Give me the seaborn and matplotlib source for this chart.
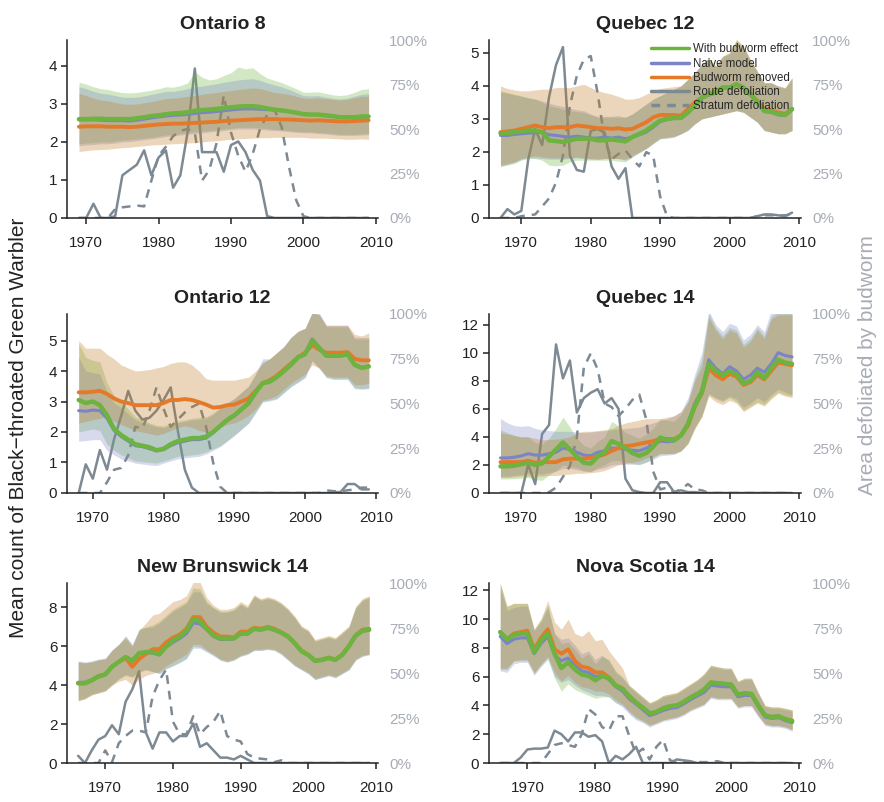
import matplotlib
matplotlib.use("Agg")
import matplotlib.pyplot as plt
from matplotlib.lines import Line2D
import seaborn as sns

# ---- data: mean counts, credible bands and % area defoliated ----
# (values grouped ten years per line)

# Ontario 8, 1969-2009
on8_years = list(range(1969, 2010))
on8_green = [2.60, 2.60, 2.61, 2.61, 2.60, 2.60, 2.60, 2.60, 2.62, 2.65,
             2.68, 2.70, 2.73, 2.75, 2.76, 2.78, 2.82, 2.84, 2.85, 2.87,
             2.89, 2.91, 2.93, 2.94, 2.94, 2.92, 2.88, 2.85, 2.83, 2.80,
             2.77, 2.73, 2.72, 2.72, 2.70, 2.68, 2.65, 2.65, 2.65, 2.67,
             2.67]
on8_blue = [2.58, 2.58, 2.58, 2.57, 2.56, 2.56, 2.56, 2.55, 2.57, 2.60,
            2.63, 2.66, 2.68, 2.70, 2.71, 2.72, 2.75, 2.77, 2.78, 2.80,
            2.82, 2.84, 2.86, 2.87, 2.87, 2.86, 2.85, 2.84, 2.82, 2.80,
            2.77, 2.74, 2.72, 2.72, 2.70, 2.68, 2.65, 2.65, 2.65, 2.66,
            2.66]
on8_orange = [2.40, 2.41, 2.41, 2.41, 2.40, 2.40, 2.40, 2.39, 2.40, 2.42,
              2.44, 2.46, 2.47, 2.48, 2.48, 2.49, 2.50, 2.51, 2.52, 2.53,
              2.55, 2.56, 2.57, 2.58, 2.59, 2.60, 2.60, 2.60, 2.59, 2.59,
              2.58, 2.57, 2.56, 2.57, 2.56, 2.55, 2.54, 2.54, 2.55, 2.56,
              2.57]
on8_green_hi = [3.57, 3.52, 3.45, 3.40, 3.38, 3.33, 3.30, 3.29, 3.30, 3.33,
                3.36, 3.40, 3.45, 3.44, 3.48, 3.55, 3.85, 3.70, 3.63, 3.66,
                3.75, 3.82, 3.97, 3.92, 3.95, 3.80, 3.68, 3.62, 3.56, 3.48,
                3.40, 3.31, 3.31, 3.32, 3.28, 3.24, 3.22, 3.24, 3.30, 3.38,
                3.40]
on8_green_lo = [1.95, 1.97, 1.98, 2.00, 2.00, 2.02, 2.05, 2.06, 2.08, 2.10,
                2.12, 2.15, 2.18, 2.20, 2.22, 2.24, 2.26, 2.28, 2.30, 2.32,
                2.34, 2.36, 2.38, 2.38, 2.38, 2.37, 2.35, 2.33, 2.32, 2.30,
                2.28, 2.27, 2.27, 2.25, 2.24, 2.22, 2.20, 2.20, 2.20, 2.21,
                2.22]
on8_blue_hi = [3.45, 3.40, 3.33, 3.28, 3.26, 3.22, 3.18, 3.17, 3.18, 3.21,
               3.25, 3.29, 3.33, 3.33, 3.36, 3.40, 3.45, 3.47, 3.50, 3.53,
               3.57, 3.60, 3.63, 3.65, 3.66, 3.62, 3.55, 3.50, 3.45, 3.38,
               3.30, 3.22, 3.21, 3.22, 3.18, 3.15, 3.13, 3.15, 3.20, 3.25,
               3.27]
on8_blue_lo = [1.90, 1.92, 1.93, 1.95, 1.95, 1.97, 2.00, 2.01, 2.03, 2.06,
               2.08, 2.11, 2.14, 2.16, 2.18, 2.20, 2.22, 2.24, 2.26, 2.28,
               2.30, 2.32, 2.34, 2.34, 2.34, 2.33, 2.31, 2.30, 2.29, 2.27,
               2.25, 2.24, 2.24, 2.22, 2.21, 2.19, 2.17, 2.17, 2.17, 2.18,
               2.19]
on8_orange_hi = [3.28, 3.22, 3.15, 3.10, 3.08, 3.04, 3.00, 2.99, 3.00, 3.03,
                 3.06, 3.10, 3.14, 3.15, 3.17, 3.20, 3.22, 3.25, 3.28, 3.30,
                 3.33, 3.35, 3.38, 3.40, 3.42, 3.40, 3.35, 3.30, 3.28, 3.25,
                 3.20, 3.15, 3.15, 3.16, 3.14, 3.12, 3.10, 3.12, 3.16, 3.20,
                 3.20]
on8_orange_lo = [1.75, 1.77, 1.79, 1.80, 1.81, 1.83, 1.85, 1.86, 1.88, 1.90,
                 1.92, 1.93, 1.94, 1.95, 1.96, 1.97, 1.98, 2.00, 2.02, 2.03,
                 2.05, 2.07, 2.08, 2.09, 2.10, 2.11, 2.11, 2.12, 2.12, 2.12,
                 2.12, 2.12, 2.10, 2.10, 2.10, 2.09, 2.08, 2.07, 2.07, 2.08,
                 2.07]
on8_route = [0, 0, 8, 0, 0, 1, 24, 27, 30, 38,
             24, 34, 38, 17, 24, 48, 84, 37, 37, 37,
             26, 41, 43, 37, 27, 21, 1, 0, 0, 0,
             0, 0, 0, 0, 0, 0, 0, 0, 0, 0,
             0]
on8_stratum = [0, 0, 0, 0, 0, 5, 6, 6.5, 7, 6.5,
               21, 35, 40, 46, 49, 50, 48, 21, 27, 42,
               69, 48, 35, 26, 36, 50, 58, 61, 51, 29,
               10, 1, 0, 0, 0, 0, 0, 0, 0, 0,
               0]

# Quebec 12, 1967-2009
q12_years = list(range(1967, 2010))
q12_green = [2.57, 2.57, 2.60, 2.62, 2.65, 2.65, 2.60, 2.35, 2.33, 2.30,
             2.35, 2.40, 2.40, 2.40, 2.35, 2.35, 2.38, 2.35, 2.32, 2.45,
             2.55, 2.65, 2.80, 2.95, 3.00, 3.03, 3.03, 3.20, 3.40, 3.65,
             3.75, 3.80, 3.95, 3.95, 4.05, 3.95, 3.75, 3.50, 3.25, 3.22,
             3.15, 3.12, 3.30]
q12_blue = [2.50, 2.50, 2.53, 2.55, 2.57, 2.58, 2.60, 2.52, 2.50, 2.47,
            2.45, 2.48, 2.45, 2.42, 2.42, 2.45, 2.42, 2.45, 2.40, 2.45,
            2.52, 2.60, 2.75, 2.92, 2.98, 3.02, 3.02, 3.18, 3.38, 3.62,
            3.72, 3.78, 3.92, 3.93, 4.02, 3.92, 3.72, 3.48, 3.22, 3.20,
            3.12, 3.10, 3.27]
q12_orange = [2.60, 2.62, 2.65, 2.70, 2.75, 2.80, 2.75, 2.72, 2.75, 2.75,
              2.75, 2.80, 2.78, 2.75, 2.72, 2.72, 2.70, 2.72, 2.68, 2.70,
              2.80, 2.90, 3.05, 3.12, 3.12, 3.12, 3.10, 3.30, 3.50, 3.65,
              3.75, 3.85, 3.95, 3.95, 4.05, 3.95, 3.75, 3.55, 3.30, 3.25,
              3.20, 3.15, 3.30]
q12_green_hi = [3.85, 3.80, 3.75, 3.70, 3.65, 3.60, 3.50, 3.40, 3.35, 3.30,
                3.25, 3.22, 3.20, 3.12, 3.05, 3.05, 3.05, 3.05, 3.05, 3.15,
                3.30, 3.45, 3.60, 3.70, 3.80, 3.90, 4.00, 4.20, 4.40, 4.65,
                4.85, 4.60, 4.90, 5.00, 5.40, 5.20, 4.80, 4.45, 4.10, 4.10,
                4.00, 3.95, 4.25]
q12_green_lo = [1.55, 1.60, 1.65, 1.75, 1.80, 1.80, 1.75, 1.60, 1.58, 1.60,
                1.70, 1.75, 1.75, 1.75, 1.75, 1.75, 1.75, 1.72, 1.70, 1.85,
                1.98, 2.10, 2.25, 2.40, 2.42, 2.45, 2.55, 2.65, 2.85, 3.00,
                3.05, 3.10, 3.15, 3.20, 3.25, 3.20, 3.05, 2.90, 2.65, 2.60,
                2.55, 2.55, 2.65]
q12_blue_hi = [3.82, 3.78, 3.73, 3.68, 3.63, 3.60, 3.55, 3.48, 3.42, 3.38,
               3.32, 3.28, 3.25, 3.15, 3.08, 3.08, 3.08, 3.10, 3.05, 3.15,
               3.30, 3.45, 3.60, 3.70, 3.80, 3.90, 4.00, 4.20, 4.40, 4.65,
               4.82, 4.58, 4.88, 4.98, 5.35, 5.15, 4.78, 4.42, 4.08, 4.08,
               3.98, 3.92, 4.22]
q12_blue_lo = [1.58, 1.62, 1.68, 1.78, 1.82, 1.82, 1.80, 1.78, 1.78, 1.78,
               1.80, 1.82, 1.80, 1.78, 1.78, 1.80, 1.80, 1.80, 1.75, 1.85,
               1.98, 2.10, 2.25, 2.40, 2.42, 2.45, 2.55, 2.65, 2.85, 3.00,
               3.05, 3.10, 3.15, 3.20, 3.25, 3.20, 3.05, 2.90, 2.65, 2.60,
               2.55, 2.55, 2.65]
q12_orange_hi = [4.00, 3.92, 3.88, 3.85, 3.85, 3.88, 3.90, 3.90, 3.95, 3.95,
                 3.95, 4.00, 4.05, 3.95, 3.85, 3.80, 3.75, 3.68, 3.60, 3.60,
                 3.65, 3.75, 3.85, 3.92, 3.95, 3.98, 4.00, 4.20, 4.40, 4.65,
                 4.85, 4.60, 4.90, 5.00, 5.40, 5.20, 4.80, 4.45, 4.10, 4.10,
                 4.00, 3.95, 4.25]
q12_orange_lo = [1.60, 1.65, 1.70, 1.80, 1.85, 1.88, 1.85, 1.82, 1.82, 1.82,
                 1.82, 1.85, 1.82, 1.80, 1.78, 1.80, 1.80, 1.80, 1.78, 1.90,
                 2.00, 2.12, 2.28, 2.42, 2.45, 2.48, 2.55, 2.68, 2.85, 3.00,
                 3.05, 3.10, 3.15, 3.20, 3.25, 3.20, 3.05, 2.90, 2.65, 2.60,
                 2.55, 2.55, 2.65]
q12_route = [0, 5, 2, 4, 33, 50, 41, 68, 86, 96,
             35, 27, 26, 49, 50, 48, 29, 22, 28, 0,
             0, 0, 0, 0, 0, 0, 0, 0, 0, 0,
             0, 0, 0, 0, 0, 0, 0, 1, 2, 2,
             1.5, 1, 3]
q12_stratum = [0, 0, 0, 1, 1.5, 2, 6.5, 11, 20, 35,
               63, 80, 89, 91, 70, 44, 33, 36, 38, 33,
               29, 37, 35, 12, 1, 0, 0, 0, 0, 0,
               0, 0, 0, 0, 0, 0, 0, 1, 1.5, 1.5,
               1.5, 1.5, 2]

# Ontario 12, 1968-2009
on12_years = list(range(1968, 2010))
on12_green = [3.05, 2.95, 3.00, 2.88, 2.55, 2.10, 1.90, 1.75, 1.60, 1.55,
              1.50, 1.40, 1.45, 1.60, 1.70, 1.75, 1.80, 1.80, 1.85, 2.00,
              2.20, 2.40, 2.55, 2.75, 2.95, 3.30, 3.60, 3.65, 3.80, 4.00,
              4.20, 4.45, 4.55, 5.00, 4.75, 4.50, 4.50, 4.50, 4.55, 4.20,
              4.10, 4.15]
on12_blue = [2.70, 2.68, 2.72, 2.70, 2.45, 2.05, 1.85, 1.70, 1.55, 1.52,
             1.45, 1.38, 1.42, 1.55, 1.65, 1.70, 1.75, 1.75, 1.80, 1.97,
             2.18, 2.38, 2.52, 2.72, 2.92, 3.28, 3.60, 3.65, 3.80, 4.00,
             4.22, 4.47, 4.58, 5.05, 4.78, 4.52, 4.52, 4.52, 4.57, 4.22,
             4.12, 4.17]
on12_orange = [3.30, 3.30, 3.32, 3.35, 3.25, 3.10, 3.00, 2.95, 2.88, 2.88,
               2.88, 2.88, 2.95, 3.05, 3.05, 3.08, 3.05, 2.98, 2.90, 2.80,
               2.82, 2.88, 2.90, 3.00, 3.10, 3.35, 3.60, 3.70, 3.85, 4.05,
               4.25, 4.45, 4.60, 4.85, 4.70, 4.60, 4.60, 4.60, 4.62, 4.40,
               4.35, 4.35]
on12_green_hi = [4.90, 4.45, 4.35, 4.30, 3.60, 3.20, 3.00, 2.75, 2.50, 2.40,
                 2.30, 2.22, 2.20, 2.28, 2.35, 2.40, 2.45, 2.48, 2.50, 2.62,
                 2.80, 2.95, 3.10, 3.30, 3.50, 3.90, 4.30, 4.40, 4.60, 4.80,
                 5.10, 5.30, 5.40, 5.90, 5.85, 5.45, 5.45, 5.45, 5.45, 5.05,
                 5.05, 5.05]
on12_green_lo = [2.00, 2.05, 2.10, 2.05, 1.60, 1.40, 1.25, 1.15, 1.05, 1.02,
                 1.00, 0.98, 1.05, 1.12, 1.20, 1.22, 1.25, 1.28, 1.35, 1.45,
                 1.55, 1.72, 1.90, 2.10, 2.30, 2.65, 3.00, 3.05, 3.10, 3.30,
                 3.50, 3.65, 3.80, 4.35, 4.10, 3.80, 3.75, 3.75, 3.75, 3.45,
                 3.42, 3.45]
on12_blue_hi = [4.45, 4.00, 3.95, 3.90, 3.30, 2.95, 2.80, 2.60, 2.40, 2.32,
                2.25, 2.18, 2.15, 2.22, 2.30, 2.35, 2.40, 2.42, 2.45, 2.58,
                2.78, 2.95, 3.10, 3.30, 3.50, 3.90, 4.40, 4.40, 4.60, 4.80,
                5.10, 5.30, 5.40, 5.95, 5.90, 5.50, 5.50, 5.50, 5.50, 5.10,
                5.10, 5.10]
on12_blue_lo = [1.70, 1.72, 1.75, 1.75, 1.40, 1.25, 1.12, 1.05, 0.98, 0.95,
                0.92, 0.90, 0.98, 1.05, 1.12, 1.15, 1.18, 1.20, 1.28, 1.40,
                1.52, 1.70, 1.88, 2.08, 2.28, 2.62, 2.98, 3.02, 3.08, 3.28,
                3.48, 3.62, 3.78, 4.32, 4.08, 3.78, 3.72, 3.72, 3.72, 3.42,
                3.40, 3.42]
on12_orange_hi = [5.00, 4.75, 4.75, 4.75, 4.55, 4.40, 4.20, 4.10, 4.00, 4.02,
                  4.05, 4.10, 4.15, 4.25, 4.30, 4.30, 4.20, 4.00, 3.75, 3.70,
                  3.70, 3.70, 3.70, 3.75, 3.80, 4.00, 4.25, 4.40, 4.60, 4.80,
                  5.10, 5.30, 5.40, 5.90, 5.85, 5.50, 5.50, 5.50, 5.50, 5.20,
                  5.15, 5.25]
on12_orange_lo = [2.30, 2.35, 2.40, 2.45, 2.50, 2.35, 2.25, 2.15, 2.05, 2.00,
                  1.95, 1.90, 1.95, 2.05, 2.15, 2.20, 2.15, 2.05, 2.00, 2.05,
                  2.15, 2.25, 2.30, 2.40, 2.55, 2.75, 3.05, 3.10, 3.20, 3.40,
                  3.60, 3.75, 3.90, 4.20, 4.10, 3.85, 3.80, 3.80, 3.80, 3.55,
                  3.55, 3.60]
on12_route = [0, 16, 8, 24, 13, 30, 43, 57, 46, 41,
              42, 46, 52, 59, 35, 13, 3, 0, 0, 0,
              0, 0, 0, 0, 0, 0, 0, 0, 0, 0,
              0, 0, 0, 0, 0, 0, 0.5, 0.5, 5, 5,
              2, 2]
on12_stratum = [0, 0, 0, 0, 6, 13, 14, 21, 37, 36,
                46, 59, 47, 37, 41, 45, 48, 50, 37, 17,
                3.5, 0, 0, 0, 0, 0, 0, 0, 0, 0,
                0, 0, 0, 0, 0, 1.5, 1, 1, 1.5, 2,
                3, 3]

# Quebec 14, 1967-2009
q14_years = list(range(1967, 2010))
q14_green = [1.90, 1.90, 1.95, 2.05, 2.15, 2.00, 2.10, 2.60, 3.10, 3.60,
             3.10, 2.60, 2.15, 2.10, 2.60, 2.90, 3.70, 3.50, 3.20, 2.85,
             2.65, 2.85, 3.30, 3.95, 3.80, 3.75, 4.10, 4.90, 6.20, 7.20,
             9.20, 8.70, 8.40, 8.70, 8.45, 7.80, 8.00, 8.60, 8.20, 8.90,
             9.50, 9.30, 9.20]
q14_blue = [2.50, 2.50, 2.55, 2.65, 2.80, 2.70, 2.70, 2.80, 2.90, 3.20,
            3.10, 2.90, 2.70, 2.65, 2.90, 3.00, 3.20, 3.20, 3.10, 3.05,
            3.00, 3.20, 3.40, 3.70, 3.65, 3.70, 4.10, 5.00, 6.40, 7.30,
            9.50, 8.90, 8.50, 9.00, 8.70, 8.10, 8.40, 8.90, 8.60, 9.20,
            10.00, 9.80, 9.70]
q14_orange = [2.20, 2.20, 2.20, 2.20, 2.30, 2.15, 2.20, 2.20, 2.20, 2.40,
              2.45, 2.45, 2.45, 2.50, 2.60, 2.75, 3.00, 3.20, 3.35, 3.40,
              3.50, 3.60, 3.70, 3.85, 3.85, 3.85, 4.10, 4.80, 6.20, 7.10,
              8.90, 8.40, 8.10, 8.50, 8.30, 7.70, 7.90, 8.40, 8.10, 8.70,
              9.30, 9.20, 9.10]
q14_green_hi = [4.50, 4.30, 4.10, 4.00, 4.00, 3.60, 3.50, 3.90, 4.60, 5.40,
                4.70, 3.90, 3.40, 3.20, 3.70, 4.00, 5.10, 4.80, 4.30, 4.10,
                3.90, 4.20, 4.60, 5.30, 5.20, 5.10, 5.60, 6.50, 8.20, 9.50,
                12.80, 11.80, 11.20, 11.80, 11.60, 10.60, 11.00, 11.80, 11.20, 12.60,
                12.90, 12.80, 12.80]
q14_green_lo = [1.00, 1.00, 1.02, 1.05, 1.10, 0.95, 0.90, 1.30, 1.60, 2.00,
                1.90, 1.80, 1.60, 1.50, 1.80, 2.00, 2.30, 2.30, 2.20, 2.10,
                2.00, 2.20, 2.50, 2.80, 2.80, 2.80, 3.00, 3.50, 4.60, 5.50,
                7.00, 6.70, 6.50, 6.80, 6.50, 5.90, 6.20, 6.50, 6.30, 6.80,
                7.20, 7.00, 6.90]
q14_blue_hi = [5.30, 5.00, 4.80, 4.75, 4.80, 4.60, 4.50, 4.45, 4.40, 4.40,
               4.40, 4.35, 4.30, 4.35, 4.40, 4.45, 4.50, 4.55, 4.60, 4.65,
               4.70, 4.85, 5.00, 5.15, 5.30, 5.50, 5.80, 6.80, 8.50, 10.00,
               13.00, 12.00, 11.50, 12.10, 11.90, 10.90, 11.30, 12.00, 11.50, 13.00,
               13.00, 13.00, 13.00]
q14_blue_lo = [1.20, 1.20, 1.25, 1.30, 1.40, 1.35, 1.35, 1.45, 1.55, 1.75,
               1.75, 1.65, 1.55, 1.55, 1.70, 1.80, 2.00, 2.05, 2.05, 2.05,
               2.05, 2.20, 2.40, 2.65, 2.70, 2.75, 3.00, 3.60, 4.70, 5.50,
               7.10, 6.80, 6.60, 6.90, 6.70, 6.10, 6.40, 6.80, 6.50, 7.00,
               7.40, 7.20, 7.00]
q14_orange_hi = [4.30, 4.20, 4.10, 4.00, 4.00, 3.90, 3.80, 3.80, 3.85, 3.90,
                 4.00, 4.30, 4.40, 4.40, 4.45, 4.50, 4.60, 4.80, 5.00, 5.10,
                 5.20, 5.30, 5.30, 5.30, 5.40, 5.50, 5.80, 6.50, 8.00, 9.00,
                 12.50, 11.60, 11.00, 11.60, 11.40, 10.40, 10.80, 11.60, 11.00, 12.40,
                 12.70, 12.70, 12.70]
q14_orange_lo = [1.10, 1.10, 1.15, 1.20, 1.20, 1.20, 1.20, 1.25, 1.25, 1.30,
                 1.35, 1.40, 1.40, 1.45, 1.50, 1.60, 1.80, 2.00, 2.10, 2.20,
                 2.30, 2.50, 2.60, 2.80, 2.80, 2.85, 3.00, 3.50, 4.60, 5.40,
                 6.90, 6.50, 6.30, 6.60, 6.40, 5.80, 6.10, 6.40, 6.20, 6.70,
                 7.10, 6.90, 6.80]
q14_route = [0, 0, 0, 0, 16, 5, 33, 38, 83, 64,
             74, 45, 53, 56, 58, 50, 53, 47, 8, 1.5,
             0.5, 0, 0, 6, 6, 0.5, 1.5, 0.5, 0.5, 0,
             0, 0, 0, 0, 0, 0, 0, 0, 0, 0,
             0, 0, 0]
q14_stratum = [0, 0, 0, 0, 0, 0, 0, 0.5, 3, 9,
               15, 31, 70, 78, 69, 50, 48, 43, 47, 52,
               55, 41, 12, 2, 3, 0.5, 2, 5, 2, 1.5,
               0, 0, 0, 0, 0, 0, 0, 0, 0, 0,
               0, 0, 0]

# New Brunswick 14, 1966-2009
nb_years = list(range(1966, 2010))
nb_green = [4.10, 4.10, 4.25, 4.45, 4.55, 4.95, 5.20, 5.45, 5.25, 5.65,
            5.70, 5.70, 5.60, 6.00, 6.30, 6.50, 6.80, 7.40, 7.30, 6.90,
            6.55, 6.40, 6.40, 6.40, 6.65, 6.65, 6.90, 6.85, 6.95, 6.85,
            6.70, 6.50, 6.15, 5.75, 5.55, 5.25, 5.30, 5.40, 5.30, 5.55,
            6.00, 6.55, 6.80, 6.85]
nb_blue = [4.15, 4.15, 4.28, 4.48, 4.58, 4.95, 5.20, 5.45, 5.30, 5.65,
           5.68, 5.65, 5.55, 5.95, 6.20, 6.40, 6.65, 7.20, 7.15, 6.85,
           6.50, 6.35, 6.35, 6.38, 6.62, 6.62, 6.88, 6.83, 6.93, 6.83,
           6.68, 6.48, 6.13, 5.73, 5.53, 5.23, 5.28, 5.38, 5.28, 5.53,
           5.98, 6.52, 6.78, 6.83]
nb_orange = [4.10, 4.10, 4.25, 4.45, 4.55, 4.95, 5.20, 5.40, 4.95, 5.35,
             5.60, 5.85, 5.85, 6.20, 6.45, 6.60, 6.90, 7.50, 7.50, 7.00,
             6.70, 6.50, 6.50, 6.45, 6.75, 6.75, 6.95, 6.90, 7.00, 6.90,
             6.72, 6.52, 6.17, 5.77, 5.57, 5.27, 5.32, 5.42, 5.32, 5.57,
             6.02, 6.57, 6.85, 6.90]
nb_green_hi = [5.20, 5.15, 5.20, 5.30, 5.35, 5.80, 6.10, 6.55, 6.05, 6.90,
               7.00, 7.10, 7.30, 7.60, 7.90, 8.10, 8.30, 9.00, 8.95, 8.30,
               8.00, 7.80, 7.80, 7.90, 8.20, 8.00, 8.60, 8.40, 8.50, 8.40,
               8.20, 7.90, 7.50, 7.00, 6.80, 6.30, 6.40, 6.50, 6.40, 6.70,
               7.00, 8.00, 8.40, 8.55]
nb_green_lo = [3.20, 3.30, 3.50, 3.60, 3.70, 4.00, 4.30, 4.50, 4.40, 4.65,
               4.80, 4.70, 4.60, 4.85, 5.00, 5.20, 5.40, 6.00, 5.95, 5.75,
               5.55, 5.30, 5.20, 5.30, 5.50, 5.60, 5.80, 5.80, 5.85, 5.80,
               5.60, 5.30, 5.00, 4.80, 4.60, 4.30, 4.40, 4.50, 4.40, 4.60,
               4.80, 5.30, 5.50, 5.55]
nb_blue_hi = [5.25, 5.20, 5.25, 5.35, 5.40, 5.80, 6.10, 6.50, 6.10, 6.85,
              6.95, 7.00, 7.20, 7.50, 7.80, 8.00, 8.20, 8.80, 8.80, 8.20,
              7.95, 7.75, 7.75, 7.85, 8.15, 7.95, 8.55, 8.35, 8.45, 8.35,
              8.15, 7.85, 7.45, 6.95, 6.75, 6.25, 6.35, 6.45, 6.35, 6.65,
              6.95, 7.95, 8.35, 8.50]
nb_blue_lo = [3.25, 3.35, 3.55, 3.65, 3.75, 4.05, 4.35, 4.55, 4.45, 4.70,
              4.80, 4.70, 4.60, 4.85, 5.00, 5.15, 5.35, 5.90, 5.90, 5.70,
              5.50, 5.28, 5.18, 5.28, 5.48, 5.58, 5.78, 5.78, 5.83, 5.78,
              5.58, 5.28, 4.98, 4.78, 4.58, 4.28, 4.38, 4.48, 4.38, 4.58,
              4.78, 5.28, 5.48, 5.60]
nb_orange_hi = [5.20, 5.15, 5.20, 5.30, 5.35, 5.80, 6.10, 6.40, 6.00, 6.80,
                7.20, 7.60, 7.70, 8.00, 8.30, 8.40, 8.60, 9.30, 9.30, 8.50,
                8.10, 7.90, 7.90, 8.00, 8.30, 8.10, 8.65, 8.45, 8.55, 8.45,
                8.25, 7.95, 7.55, 7.05, 6.85, 6.35, 6.45, 6.55, 6.45, 6.75,
                7.05, 8.05, 8.45, 8.60]
nb_orange_lo = [3.20, 3.30, 3.50, 3.60, 3.70, 4.00, 4.20, 4.30, 4.00, 4.30,
                4.50, 4.60, 4.70, 5.00, 5.20, 5.40, 5.60, 6.10, 6.10, 5.80,
                5.60, 5.35, 5.25, 5.35, 5.55, 5.65, 5.85, 5.85, 5.90, 5.85,
                5.65, 5.35, 5.05, 4.85, 4.65, 4.35, 4.45, 4.55, 4.45, 4.65,
                4.85, 5.35, 5.55, 5.60]
nb_route = [4, 0, 7, 13, 15, 21, 16, 34, 41, 51,
            17, 8, 17, 17, 12, 15, 15, 22, 9, 11,
            7, 3, 3, 2, 4, 2, 0, 0, 0, 0,
            0, 0, 0, 0, 0, 0, 0, 0, 0, 0,
            0, 0, 0, 0]
nb_stratum = [0, 0, 0, 0, 7, 0.5, 11, 15, 18, 18,
              17, 37, 46, 52, 23, 16, 16, 26, 16, 20,
              23, 29, 15, 13, 12, 5, 3, 2.4, 2, 0.5,
              1.5, 0, 0, 0, 0, 0, 0, 0, 0, 0,
              0, 0, 0, 0]

# Nova Scotia 14, 1966-2009
ns_years = list(range(1966, 2010))
ns_green = [9.10, 8.60, 8.90, 9.00, 9.00, 7.70, 8.50, 9.00, 7.60, 6.60,
            7.00, 6.50, 6.15, 6.05, 5.75, 6.05, 5.90, 5.40, 5.15, 4.65,
            4.20, 3.85, 3.45, 3.55, 3.80, 3.95, 4.00, 4.25, 4.55, 4.80,
            5.10, 5.60, 5.55, 5.50, 5.45, 4.75, 4.85, 4.80, 4.00, 3.30,
            3.20, 3.25, 3.05, 2.90]
ns_blue = [8.80, 8.30, 8.60, 8.70, 8.70, 7.60, 8.30, 8.80, 7.50, 7.10,
           7.30, 6.80, 6.40, 6.30, 6.00, 6.10, 5.80, 5.30, 5.00, 4.45,
           4.10, 3.70, 3.30, 3.45, 3.65, 3.80, 3.85, 4.10, 4.40, 4.65,
           4.90, 5.40, 5.35, 5.30, 5.30, 4.60, 4.70, 4.70, 3.90, 3.20,
           3.10, 3.15, 2.95, 2.80]
ns_orange = [9.10, 8.60, 9.00, 9.10, 9.20, 7.90, 8.70, 9.30, 7.90, 7.60,
             7.90, 7.10, 6.70, 6.60, 6.30, 6.30, 5.95, 5.40, 5.20, 4.60,
             4.20, 3.85, 3.45, 3.55, 3.80, 3.95, 4.00, 4.25, 4.55, 4.80,
             5.10, 5.60, 5.55, 5.50, 5.45, 4.75, 4.85, 4.80, 4.00, 3.30,
             3.20, 3.25, 3.05, 2.95]
ns_green_hi = [12.50, 10.90, 11.10, 11.10, 11.10, 9.30, 10.00, 11.00, 9.00, 8.30,
               8.40, 7.90, 7.30, 7.60, 6.90, 7.40, 7.20, 6.40, 6.00, 5.40,
               5.00, 4.60, 4.20, 4.40, 4.70, 4.80, 4.90, 5.20, 5.50, 5.80,
               6.20, 6.80, 6.70, 6.60, 6.60, 5.70, 5.90, 5.90, 4.90, 4.00,
               3.90, 3.90, 3.80, 3.70]
ns_green_lo = [6.50, 6.50, 7.10, 7.10, 7.10, 6.20, 6.80, 7.30, 5.90, 5.00,
               5.50, 5.10, 4.90, 4.70, 4.50, 4.60, 4.60, 4.20, 4.00, 3.50,
               3.10, 2.90, 2.60, 2.80, 3.00, 3.10, 3.20, 3.40, 3.70, 3.90,
               4.10, 4.60, 4.50, 4.50, 4.50, 3.90, 4.00, 4.00, 3.30, 2.70,
               2.60, 2.60, 2.50, 2.30]
ns_blue_hi = [12.20, 10.60, 10.80, 10.90, 10.90, 9.20, 9.80, 10.80, 9.00, 8.60,
              8.70, 8.20, 7.60, 7.80, 7.20, 7.50, 7.10, 6.30, 5.90, 5.30,
              4.90, 4.50, 4.10, 4.30, 4.60, 4.70, 4.80, 5.10, 5.40, 5.70,
              6.10, 6.70, 6.60, 6.50, 6.50, 5.60, 5.80, 5.80, 4.80, 3.90,
              3.80, 3.80, 3.70, 3.60]
ns_blue_lo = [6.40, 6.30, 6.90, 7.00, 7.00, 6.10, 6.70, 7.20, 6.00, 5.60,
              5.80, 5.40, 5.10, 4.90, 4.70, 4.70, 4.60, 4.20, 3.90, 3.40,
              3.00, 2.80, 2.50, 2.70, 2.90, 3.00, 3.10, 3.30, 3.60, 3.80,
              4.00, 4.50, 4.40, 4.40, 4.40, 3.80, 3.90, 3.90, 3.20, 2.60,
              2.50, 2.50, 2.40, 2.20]
ns_orange_hi = [12.50, 10.90, 11.10, 11.10, 11.10, 9.30, 10.00, 11.30, 9.80, 9.30,
                10.00, 9.00, 8.80, 9.20, 8.50, 8.60, 7.80, 7.20, 6.60, 5.40,
                5.00, 4.60, 4.20, 4.40, 4.70, 4.80, 4.90, 5.20, 5.50, 5.80,
                6.20, 6.80, 6.70, 6.60, 6.60, 5.70, 5.90, 5.90, 4.90, 4.00,
                3.90, 3.90, 3.80, 3.70]
ns_orange_lo = [6.60, 6.60, 7.10, 7.20, 7.20, 6.30, 6.90, 7.40, 6.30, 5.70,
                6.10, 5.60, 5.30, 5.20, 5.00, 5.00, 4.80, 4.40, 4.10, 3.60,
                3.20, 2.95, 2.65, 2.80, 3.00, 3.10, 3.20, 3.40, 3.70, 3.90,
                4.10, 4.60, 4.50, 4.50, 4.50, 3.90, 4.00, 4.00, 3.30, 2.70,
                2.60, 2.60, 2.50, 2.35]
ns_route = [0, 0, 0, 3, 7.5, 8, 8, 8.6, 18, 16,
            12, 17, 17, 14.6, 15.5, 12, 0, 4, 2, 5,
            9, 0, 0, 0, 0, 0, 2, 1.5, 1, 0,
            0, 0, 0, 0, 0, 0, 0, 0, 0, 0,
            0, 0, 0, 0]
ns_stratum = [0, 0, 0, 0, 0, 0, 0, 5, 10, 11,
              10, 9, 16, 30, 27, 20, 18, 26, 26, 15,
              5, 8, 2, 9, 13, 1.5, 0.5, 0.5, 0.5, 0.5,
              0.5, 0.5, 1, 0, 0, 0, 0, 0, 0, 0,
              0, 0, 0, 0]

# ---- style ----
GREEN = "#6db33f"
BLUE = "#7b84c6"
ORANGE = "#e5792a"
ORANGE_BAND = "#bf7a22"
GRAY = "#7d8993"
LIGHT = "#a8acb4"
INK = "#222222"

sns.set_style("ticks")
plt.rcParams["font.family"] = ["Liberation Sans", "DejaVu Sans"]
plt.rcParams["axes.linewidth"] = 1.1


def panel(title, prefix, years, ymax, yticks, pos):
    g = globals()
    p = dict(title=title, years=years, ymax=ymax, yticks=yticks, pos=pos)
    for key in ["green", "blue", "orange", "green_lo", "green_hi", "blue_lo", "blue_hi",
                "orange_lo", "orange_hi", "route", "stratum"]:
        p[key] = g[f"{prefix}_{key}"]
        if len(p[key]) != len(years):
            raise ValueError(f"{prefix}_{key}: {len(p[key])} values for {len(years)} years")
    return p


panels = [
    panel("Ontario 8", "on8", on8_years, 4.68, [0, 1, 2, 3, 4], (0.0758, 0.7282, 0.3518, 0.2219)),
    panel("Quebec 12", "q12", q12_years, 5.39, [0, 1, 2, 3, 4, 5], (0.5532, 0.7282, 0.3530, 0.2219)),
    panel("Ontario 12", "on12", on12_years, 5.87, [0, 1, 2, 3, 4, 5], (0.0758, 0.3853, 0.3518, 0.2232)),
    panel("Quebec 14", "q14", q14_years, 12.76, [0, 2, 4, 6, 8, 10, 12], (0.5532, 0.3853, 0.3530, 0.2232)),
    panel("New Brunswick 14", "nb", nb_years, 9.25, [0, 2, 4, 6, 8], (0.0758, 0.0486, 0.3518, 0.2244)),
    panel("Nova Scotia 14", "ns", ns_years, 12.51, [0, 2, 4, 6, 8, 10, 12], (0.5532, 0.0486, 0.3530, 0.2244)),
]

fig = plt.figure(figsize=(8.84, 8.02), dpi=100)

for i, p in enumerate(panels):
    ax = fig.add_axes(p["pos"])
    ax2 = ax.twinx()
    # defoliation goes behind the model bands
    ax.set_zorder(ax2.get_zorder() + 1)
    ax.patch.set_visible(False)

    yrs = p["years"]
    sns.lineplot(x=yrs, y=p["route"], ax=ax2, color=GRAY, lw=1.8,
                 estimator=None, errorbar=None)
    sns.lineplot(x=yrs, y=p["stratum"], ax=ax2, color=GRAY, lw=1.8,
                 linestyle=(0, (3.5, 2.8)), estimator=None, errorbar=None)

    # credible bands
    for key, col in [("green", GREEN), ("blue", BLUE), ("orange", ORANGE_BAND)]:
        ax.fill_between(yrs, p[key + "_lo"], p[key + "_hi"], color=col, alpha=0.3, lw=0)

    sns.lineplot(x=yrs, y=p["blue"], ax=ax, color=BLUE, lw=2.2, estimator=None, errorbar=None)
    sns.lineplot(x=yrs, y=p["orange"], ax=ax, color=ORANGE, lw=2.8, estimator=None, errorbar=None)
    sns.lineplot(x=yrs, y=p["green"], ax=ax, color=GREEN, lw=3.2, estimator=None, errorbar=None)

    ax.set_xlim(yrs[0] - 1.65, 2010.3)
    ax.set_ylim(0, p["ymax"])
    ax.set_xticks([1970, 1980, 1990, 2000, 2010])
    ax.set_yticks(p["yticks"])
    ax.set_xlabel("")
    ax.set_ylabel("")
    ax.tick_params(axis="both", direction="out", length=4, width=1.1,
                   labelsize=11, colors=INK, pad=3)
    ax.tick_params(axis="x", pad=9)
    sns.despine(ax=ax)
    ax.spines["left"].set_color(INK)
    ax.spines["bottom"].set_color(INK)
    ax.set_title(p["title"], fontsize=14, fontweight="bold", color=INK, pad=8)

    ax2.set_ylim(0, 100)
    ax2.set_yticks([0, 25, 50, 75, 100])
    ax2.set_yticklabels(["0%", "25%", "50%", "75%", "100%"])
    ax2.tick_params(axis="y", length=0, labelsize=11, labelcolor=LIGHT, pad=8)
    ax2.set_ylabel("")
    for s in ax2.spines.values():
        s.set_visible(False)

    if i == 1:
        handles = [
            Line2D([], [], color=GREEN, lw=2.5),
            Line2D([], [], color=BLUE, lw=2.5),
            Line2D([], [], color=ORANGE, lw=2.5),
            Line2D([], [], color=GRAY, lw=2.5),
            Line2D([], [], color=GRAY, lw=2.5, linestyle=(0, (2.5, 2.0))),
        ]
        labels = ["With budworm effect", "Naive model", "Budworm removed",
                  "Route defoliation", "Stratum defoliation"]
        ax.legend(handles, labels, loc="upper right", bbox_to_anchor=(1.0, 1.0),
                  frameon=False, fontsize=8.3, handlelength=3.3, handletextpad=0.35,
                  labelspacing=0.18, borderpad=0.1, borderaxespad=0.2)

fig.text(0.021, 0.467, "Mean count of Black\u2212throated Green Warbler", rotation=90,
         ha="center", va="center", fontsize=15, color=INK)
fig.text(0.981, 0.545, "Area defoliated by budworm", rotation=90,
         ha="center", va="center", fontsize=15, color=LIGHT)

fig.savefig("out.png", dpi=100)
